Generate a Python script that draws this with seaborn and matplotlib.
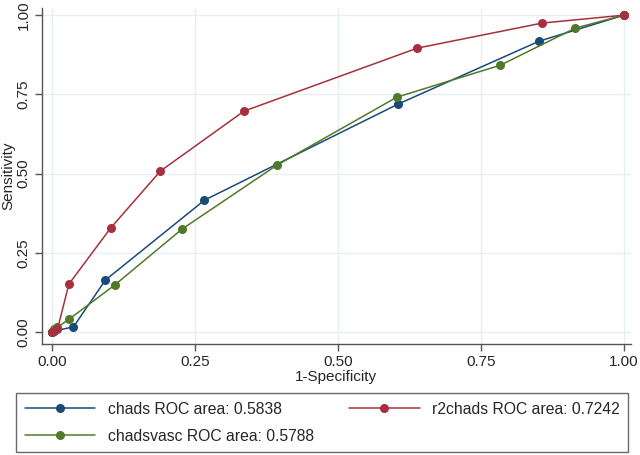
import numpy as np
import pandas as pd
import matplotlib
matplotlib.use("Agg")
import matplotlib.pyplot as plt
import seaborn as sns

# ROC points
chads_x = [0.0, 0.004, 0.038, 0.094, 0.267, 0.605, 0.852, 1.0]
chads_y = [0.0, 0.003, 0.016, 0.164, 0.416, 0.719, 0.918, 1.0]

r2chads_x = [0.0, 0.010, 0.030, 0.103, 0.190, 0.336, 0.639, 0.857, 1.0]
r2chads_y = [0.0, 0.008, 0.151, 0.328, 0.508, 0.697, 0.896, 0.975, 1.0]

chadsvasc_x = [0.0, 0.004, 0.010, 0.031, 0.110, 0.228, 0.394, 0.603, 0.784, 0.915, 1.0]
chadsvasc_y = [0.0, 0.008, 0.015, 0.041, 0.148, 0.325, 0.527, 0.741, 0.842, 0.959, 1.0]

labels = ["chads ROC area: 0.5838", "chadsvasc ROC area: 0.5788", "r2chads ROC area: 0.7242"]
colors = ["#1a4a7a", "#4f7a28", "#a8303e"]

ticks = [0.0, 0.25, 0.5, 0.75, 1.0]
tick_labels = ["0.00", "0.25", "0.50", "0.75", "1.00"]

sns.set_style("white")
plt.rcParams['font.family'] = ['Liberation Sans', 'DejaVu Sans']

fig = plt.figure(figsize=(6.4, 4.55), dpi=100)
ax = fig.add_axes([0.0656, 0.244, 0.92, 0.738])

series = [(chads_x, chads_y), (chadsvasc_x, chadsvasc_y), (r2chads_x, r2chads_y)]
handles = []
for (xs, ys), lab, col in zip(series, labels, colors):
    sns.lineplot(x=xs, y=ys, ax=ax, sort=False, estimator=None, color=col,
                 linewidth=1.1, marker="o", markersize=6.5, markeredgewidth=0,
                 label=lab, legend=False)
    handles.append(ax.lines[-1])

ax.set_xlim(-0.017, 1.012)
ax.set_ylim(-0.038, 1.022)
ax.set_xticks(ticks)
ax.set_xticklabels(tick_labels)
ax.set_yticks(ticks)
ax.set_yticklabels(tick_labels, rotation=90, va="center")
ax.grid(True, color="#e6eff2", linewidth=1.0)
ax.set_axisbelow(True)
for s in ["top", "right"]:
    ax.spines[s].set_visible(False)
for s in ["left", "bottom"]:
    ax.spines[s].set_color("#555555")
    ax.spines[s].set_linewidth(1.0)
ax.tick_params(axis="both", direction="out", length=5, width=1, color="#555555",
               labelsize=11, pad=3, left=True, bottom=True)
ax.set_xlabel("1-Specificity", fontsize=11, labelpad=1)
ax.set_ylabel("Sensitivity", fontsize=11, labelpad=1)

leg = fig.legend(handles, labels, ncol=2, loc="lower left",
                 bbox_to_anchor=(0.025, 0.006, 0.957, 0.125), mode="expand",
                 frameon=True, fancybox=False, fontsize=11.3, handlelength=4.5,
                 borderaxespad=0, columnspacing=2, labelspacing=0.75,
                 borderpad=0.55, handletextpad=0.8)
leg.get_frame().set_edgecolor("#444444")
leg.get_frame().set_linewidth(1.0)

fig.savefig("out.png", dpi=100)
